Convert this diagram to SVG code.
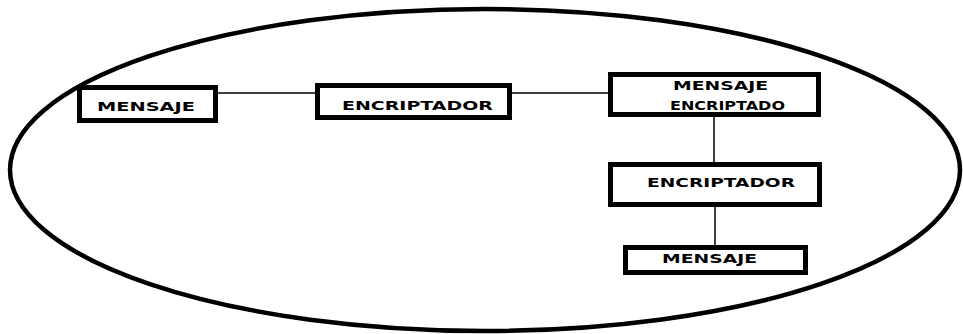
<svg xmlns="http://www.w3.org/2000/svg" width="963" height="334" viewBox="0 0 963 334">
<style>
.box{fill:#fff;stroke:#000;stroke-width:5}
.lbl{font-family:"DejaVu Sans","Liberation Sans",Arial,sans-serif;font-weight:bold;font-size:12.5px;fill:#000}
.con{stroke:#000;stroke-width:1.5;fill:none}
</style>
<rect width="963" height="334" fill="#fff"/>
<ellipse cx="485" cy="170" rx="475" ry="161" fill="none" stroke="#000" stroke-width="4.5"/>
<g id="connectors">
<line class="con" x1="218" y1="93" x2="315" y2="93"/>
<line class="con" x1="512" y1="93" x2="608" y2="93"/>
<line class="con" x1="714" y1="117" x2="714" y2="162"/>
<line class="con" x1="715" y1="207" x2="715" y2="245"/>
</g>
<g id="n1">
<rect class="box" x="79.5" y="87.5" width="136" height="33"/>
<text class="lbl" x="97" y="110.5" textLength="98" lengthAdjust="spacingAndGlyphs">MENSAJE</text>
</g>
<g id="n2">
<rect class="box" x="317.5" y="85.5" width="192" height="32"/>
<text class="lbl" x="342" y="109.7" textLength="151" lengthAdjust="spacingAndGlyphs">ENCRIPTADOR</text>
</g>
<g id="n3">
<rect class="box" x="610.5" y="74.5" width="208" height="40"/>
<text class="lbl" x="673" y="89.7" textLength="95" lengthAdjust="spacingAndGlyphs">MENSAJE</text>
<text class="lbl" x="670" y="109.7" textLength="115" lengthAdjust="spacingAndGlyphs">ENCRIPTADO</text>
</g>
<g id="n4">
<rect class="box" x="610.5" y="164.5" width="209" height="40"/>
<text class="lbl" x="647" y="186.7" textLength="148" lengthAdjust="spacingAndGlyphs">ENCRIPTADOR</text>
</g>
<g id="n5">
<rect class="box" x="625.5" y="247.5" width="180" height="25"/>
<text class="lbl" x="662" y="262.7" textLength="95" lengthAdjust="spacingAndGlyphs">MENSAJE</text>
</g>
</svg>
